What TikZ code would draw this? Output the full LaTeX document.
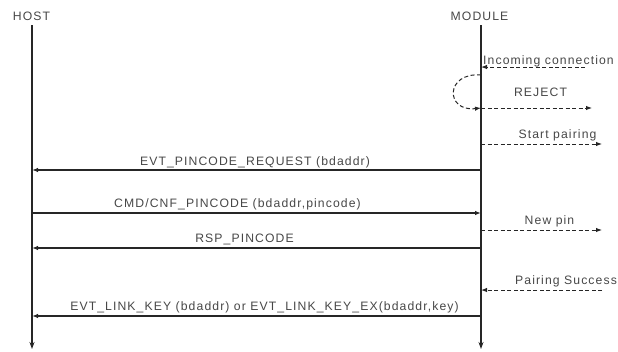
\documentclass[tikz,border=0pt]{standalone}
\usepackage{fontspec}
\usepackage{tikz}
\usetikzlibrary{arrows.meta}
\newfontfamily\seqFont{Liberation Sans}[LetterSpace=9]
\tikzset{
  seqText/.style={anchor=base, inner sep=0pt, font=\seqFont\fontsize{12.2bp}{14bp}\selectfont, text=black!72},
  seqLife/.style={draw=black!85, line width=1.2bp, -{Stealth[length=7bp,width=5bp,inset=2.5bp]}},
  seqMsg/.style={draw=black!85, line width=1.2bp, -{Latex[length=6bp,width=4.5bp]}},
  seqNote/.style={draw=black!85, line width=1bp, dash pattern=on 4bp off 2.5bp, -{Latex[length=6bp,width=4.5bp]}}
}

\begin{document}
\begin{tikzpicture}[x=1bp,y=-1bp]
\useasboundingbox (0,0) rectangle (618,351);
% lifelines
\node[seqText] (hostHead) at (31.5,20) {HOST};
\node[seqText] (modHead) at (479.5,20) {MODULE};
\coordinate (hostTop) at (32,25);
\coordinate (hostEnd) at (32,349);
\coordinate (modTop) at (481,25);
\coordinate (modEnd) at (481,349);
\draw[seqLife] (hostTop) -- (hostEnd);
\draw[seqLife] (modTop) -- (modEnd);
% module side events
\coordinate (modIn) at (481,67);
\coordinate (freeIn) at (585,67);
\coordinate (modLoop) at (481,75);
\coordinate (modRej) at (481,108);
\coordinate (freeRej) at (592,108);
\coordinate (modStart) at (481,144);
\coordinate (freeStart) at (602,144);
\coordinate (modPin) at (481,230);
\coordinate (freePin) at (602,230);
\coordinate (modOk) at (481,290);
\coordinate (freeOk) at (602,290);
\draw[seqNote] (freeIn) -- (modIn);
\draw[seqNote] (modLoop) .. controls (445,72) and (445,112) .. (modRej);
\draw[seqNote] (modRej) -- (freeRej);
\draw[seqNote] (modStart) -- (freeStart);
\draw[seqNote] (modPin) -- (freePin);
\draw[seqNote] (freeOk) -- (modOk);
\node[seqText] (lblIn) at (548.5,64) {Incoming connection};
\node[seqText] (lblRej) at (540.5,96) {REJECT};
\node[seqText] (lblStart) at (557.5,138) {Start pairing};
\node[seqText] (lblPin) at (549.5,224) {New pin};
\node[seqText] (lblOk) at (566,284) {Pairing Success};
% host <-> module messages
\coordinate (hostReq) at (32,170);
\coordinate (modReq) at (481,170);
\coordinate (hostCnf) at (32,213);
\coordinate (modCnf) at (481,213);
\coordinate (hostRsp) at (32,248);
\coordinate (modRsp) at (481,248);
\coordinate (hostKey) at (32,316);
\coordinate (modKey) at (481,316);
\draw[seqMsg] (modReq) -- (hostReq);
\draw[seqMsg] (hostCnf) -- (modCnf);
\draw[seqMsg] (modRsp) -- (hostRsp);
\draw[seqMsg] (modKey) -- (hostKey);
\node[seqText] (lblReq) at (255,165) {EVT\_PINCODE\_REQUEST (bdaddr)};
\node[seqText] (lblCnf) at (237.5,207) {CMD/CNF\_PINCODE (bdaddr,pincode)};
\node[seqText] (lblRsp) at (244.5,242) {RSP\_PINCODE};
\node[seqText] (lblKey) at (264.5,310) {EVT\_LINK\_KEY (bdaddr) or EVT\_LINK\_KEY\_EX(bdaddr,key)};
\end{tikzpicture}
\end{document}
